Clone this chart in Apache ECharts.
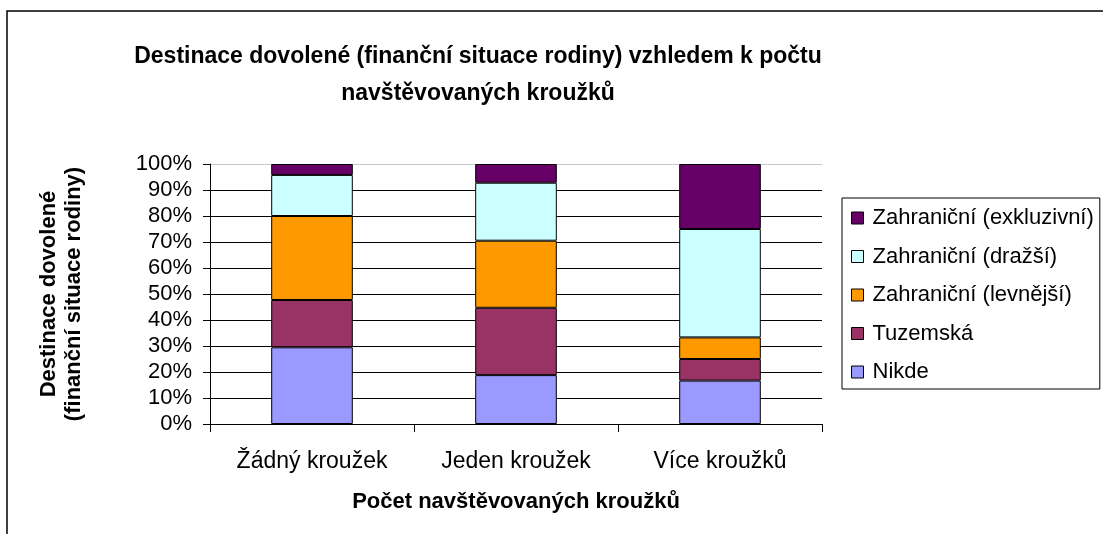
<!DOCTYPE html>
<html>
<head>
<meta charset="utf-8">
<script src="https://cdn.jsdelivr.net/npm/echarts@6/dist/echarts.min.js"></script>
<style>
  html, body { margin: 0; padding: 0; background: #fff; }
  #chart { width: 1103px; height: 534px; }
</style>
</head>
<body>
<div id="chart"></div>
<script>
// kategorie na ose x
var categories = ['Žádný kroužek', 'Jeden kroužek', 'Více kroužků'];
// podíly v procentech
var nikde = [29.5, 18.8, 16.7];
var tuzemska = [18.2, 25.9, 8.3];
var levnejsi = [32.3, 25.8, 8.3];
var drazsi = [15.8, 22.3, 41.7];
var exkluzivni = [4.2, 7.2, 25.0];
var yTicks = [0, 10, 20, 30, 40, 50, 60, 70, 80, 90, 100];

var font = 'Liberation Sans, Arial, sans-serif';
var chart = echarts.init(document.getElementById('chart'));

function serie(name, data, color) {
    return {
        name: name,
        type: 'bar',
        stack: 'celkem',
        barWidth: '40%',
        itemStyle: { color: color, borderColor: '#000', borderWidth: 1 },
        data: data
    };
}

// mřížka: černé čáry, horní (100 %) je světle šedá
var gridColors = yTicks.map(function (v) { return v === 100 ? '#c8c8c8' : '#000'; });

var option = {
    animation: false,
    textStyle: { fontFamily: font },
    graphic: [
        {
            type: 'rect',
            shape: { x: 7, y: 11, width: 1200, height: 600 },
            style: { fill: 'none', stroke: '#000', lineWidth: 1.5 },
            silent: true
        },
        {
            type: 'text',
            x: 478,
            y: 38,
            style: {
                text: 'Destinace dovolené (finanční situace rodiny) vzhledem k počtu\nnavštěvovaných kroužků',
                textAlign: 'center',
                font: 'bold 23px ' + font,
                lineHeight: 37,
                fill: '#000'
            }
        }
    ],
    legend: {
        orient: 'vertical',
        left: 842,
        top: 198,
        padding: [9, 6, 6, 9],
        itemGap: 16.5,
        itemWidth: 12,
        itemHeight: 12,
        borderColor: '#000',
        borderWidth: 1,
        icon: 'rect',
        itemStyle: { borderColor: '#000', borderWidth: 1 },
        textStyle: { fontSize: 22, color: '#000', fontFamily: font, padding: [0, 0, 0, 4] },
        data: ['Zahraniční (exkluzivní)', 'Zahraniční (dražší)', 'Zahraniční (levnější)', 'Tuzemská', 'Nikde']
    },
    grid: { left: 210, right: 281, top: 164, bottom: 110 },
    xAxis: {
        type: 'category',
        data: categories,
        name: 'Počet navštěvovaných kroužků',
        nameLocation: 'middle',
        nameGap: 67,
        nameTextStyle: { fontSize: 22, fontWeight: 'bold', color: '#000', fontFamily: font },
        axisLine: { lineStyle: { color: '#000', width: 1 } },
        axisTick: { show: true, length: 8, lineStyle: { color: '#000' } },
        axisLabel: { fontSize: 23, color: '#000', margin: 26, interval: 0, fontFamily: font }
    },
    yAxis: {
        type: 'value',
        min: 0,
        max: 100,
        interval: 10,
        name: 'Destinace dovolené\n(finanční situace rodiny)',
        nameLocation: 'middle',
        nameRotate: 90,
        nameGap: 124,
        nameTextStyle: { fontSize: 22, fontWeight: 'bold', color: '#000', lineHeight: 25, fontFamily: font },
        axisLine: { show: true, lineStyle: { color: '#000', width: 1 } },
        axisTick: { show: true, length: 7, lineStyle: { color: '#000' } },
        axisLabel: { fontSize: 22, color: '#000', margin: 18, formatter: '{value}%', fontFamily: font },
        splitLine: { show: true, lineStyle: { color: gridColors, width: 1 } }
    },
    series: [
        serie('Nikde', nikde, '#9999FF'),
        serie('Tuzemská', tuzemska, '#993366'),
        serie('Zahraniční (levnější)', levnejsi, '#FF9900'),
        serie('Zahraniční (dražší)', drazsi, '#CCFFFF'),
        serie('Zahraniční (exkluzivní)', exkluzivni, '#660066')
    ]
};

chart.setOption(option);
</script>
</body>
</html>
